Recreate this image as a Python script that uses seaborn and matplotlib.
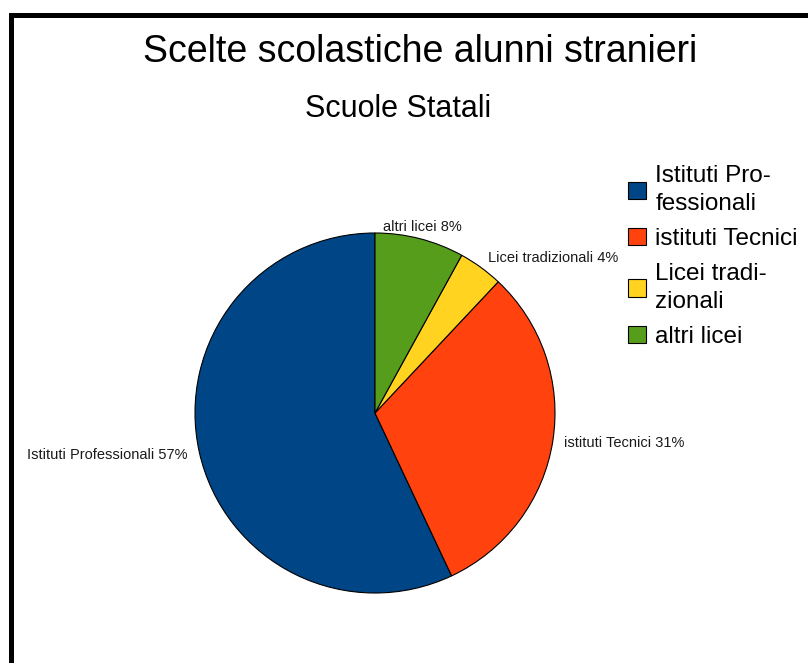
import matplotlib
matplotlib.use("Agg")
import matplotlib.pyplot as plt
import seaborn as sns
from matplotlib.lines import Line2D

# data
categories = ["Istituti Professionali", "istituti Tecnici", "Licei tradizionali", "altri licei"]
legend_labels = ["Istituti Pro-\nfessionali", "istituti Tecnici", "Licei tradi-\nzionali", "altri licei"]
percent = [57, 31, 4, 8]
colors = ["#004586", "#ff420e", "#ffd320", "#579d1c"]

sns.set_theme(style="white")
plt.rcParams['font.family'] = ['Liberation Sans', 'DejaVu Sans']

W, H = 808, 663
fig = plt.figure(figsize=(W / 100, H / 100), dpi=100)
fig.patch.set_facecolor("white")

# pie axes: center ~ (375, 413), radius ~180 px
ax = fig.add_axes([195 / W, (H - 593) / H, 360 / W, 360 / H])
pie_labels = [f"{c} {p}%" for c, p in zip(categories, percent)]
wedges, texts = ax.pie(percent, labels=pie_labels, colors=sns.color_palette(colors),
                       startangle=90, counterclock=True, labeldistance=1.065,
                       wedgeprops=dict(edgecolor="black", linewidth=0.8),
                       textprops=dict(fontsize=10.5, color="#1a1a1a"))
texts[3].set_ha("center")
ax.set_xlim(-1, 1)
ax.set_ylim(-1, 1)
ax.set_aspect("equal")
ax.axis("off")

# titles
fig.text(420 / W, (H - 62) / H, "Scelte scolastiche alunni stranieri",
         ha="center", va="baseline", fontsize=27, color="black")
fig.text(398 / W, (H - 117) / H, "Scuole Statali",
         ha="center", va="baseline", fontsize=22, color="black")

# legend
leg = fig.legend(wedges, legend_labels, loc="upper left",
                 bbox_to_anchor=(628 / W, (H - 165) / H), bbox_transform=fig.transFigure,
                 frameon=False, fontsize=17.5, handlelength=0.72, handleheight=0.72,
                 handletextpad=0.4, labelspacing=0.52, borderpad=0, borderaxespad=0)
for t in leg.get_texts():
    t.set_linespacing(1.38)
    t.set_color("black")
for h in leg.legend_handles:
    h.set_edgecolor("black")
    h.set_linewidth(0.8)

# black frame on left and top
lw = 5 * 72 / 100
fig.add_artist(Line2D([10.5 / W, 10.5 / W], [-0.05, (H - 14.5) / H], transform=fig.transFigure,
                      color="black", lw=lw, solid_capstyle="projecting"))
fig.add_artist(Line2D([10.5 / W, 1.05], [(H - 14.5) / H, (H - 14.5) / H], transform=fig.transFigure,
                      color="black", lw=lw, solid_capstyle="projecting"))

fig.savefig("out.png", dpi=100, facecolor="white")
